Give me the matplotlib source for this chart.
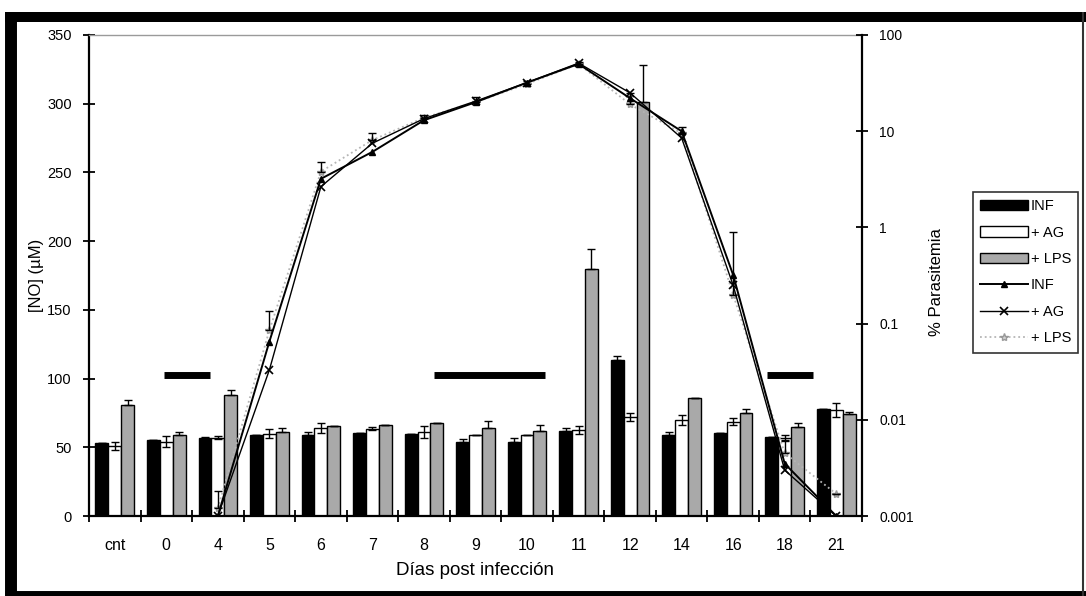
import numpy as np
import matplotlib
matplotlib.use("Agg")
import matplotlib.pyplot as plt
from matplotlib.lines import Line2D

plt.rcParams['font.family'] = ['Liberation Sans', 'DejaVu Sans']

# ------------------------------------------------------------
# datos
# ------------------------------------------------------------
dias = ['cnt', '0', '4', '5', '6', '7', '8', '9', '10', '11', '12', '14', '16', '18', '21']

# [NO] (uM) -- barras
no_inf     = [53, 55, 56.5, 59, 59, 60.5, 59.5, 54, 53.5, 61.5, 113.5, 59, 60.5, 57.5, 78]
no_inf_err = [0, 0, 1, 0, 2, 0, 0, 2, 3, 2.5, 3, 2, 0, 0, 0]
no_ag      = [51, 54, 57, 60, 64, 63.5, 61, 59, 59, 62.5, 72, 70, 68.5, 57, 77]
no_ag_err  = [3, 4, 1, 3, 3.5, 1, 4.5, 0, 0, 3, 3, 3.5, 2.5, 2, 5]
no_lps     = [81, 59, 88, 61, 65.5, 66, 67.5, 64, 62, 180, 301, 85.5, 75, 65, 74]
no_lps_err = [3.5, 2, 4, 3, 0, 0, 0, 5, 4, 14, 27, 0, 2.5, 3, 2]

# % parasitemia -- lineas (eje log)
nan = np.nan
par_inf = [nan, nan, 0.001, 0.065, 3.2, 6.1, 13, 20, 32, 50, 22, 10, 0.32, 0.0035, 0.001]
par_ag  = [nan, nan, 0.001, 0.033, 2.65, 7.5, 13.5, 20.5, 32, 51, 25, 8.5, 0.25, 0.003, 0.001]
par_lps = [nan, nan, 0.0012, 0.085, 3.8, 8.1, 13.8, 20, 31, 50, 19, 9.5, 0.2, 0.0045, 0.0017]
par_err = [0, 0, 0.0006, 0.05, 1.0, 1.5, 1.0, 2.5, 2.0, 3.0, 6.0, 1.5, 0.7, 0.0015, 0]

# barras horizontales (periodos), en unidades de categoria
periodos = [(0.95, 1.85), (6.2, 8.35), (12.65, 13.55)]
nivel_periodo = 102.5

W, H = 1086, 596
fig = plt.figure(figsize=(W/100, H/100), dpi=100)
ax = fig.add_axes([89/W, 1-516/H, (862-89)/W, (516-35)/H])

x = np.arange(len(dias))
bw = 0.25
cero = np.zeros(len(dias))
ekw = dict(ecolor='black', capsize=3, elinewidth=1, capthick=1)
ax.bar(x-bw, no_inf, bw, color='black', edgecolor='black', lw=1,
       yerr=[cero, no_inf_err], error_kw=ekw, label='INF', zorder=2)
ax.bar(x, no_ag, bw, color='white', edgecolor='black', lw=1,
       yerr=no_ag_err, error_kw=ekw, label='+ AG', zorder=2)
ax.bar(x+bw, no_lps, bw, color='#a9a9a9', edgecolor='black', lw=1,
       yerr=[cero, no_lps_err], error_kw=ekw, label='+ LPS', zorder=2)

for a, b in periodos:
    ax.plot([a, b], [nivel_periodo, nivel_periodo], color='black', lw=5,
            solid_capstyle='butt', zorder=3)

ax.set_xlim(-0.5, len(dias)-0.5)
ax.set_ylim(0, 350)
ax.set_yticks(range(0, 351, 50))
ax.set_xticks(np.arange(-0.5, len(dias), 1))
ax.set_xticklabels([])
ax.set_xticks(x, minor=True)
ax.set_xticklabels(dias, minor=True)
ax.tick_params(axis='x', which='major', direction='inout', length=8, width=1.3)
ax.tick_params(axis='x', which='minor', length=0, pad=16, labelsize=11.5)
ax.tick_params(axis='y', direction='inout', length=9, width=1.3, pad=8, labelsize=10.5)
for s in ['left', 'bottom']:
    ax.spines[s].set_linewidth(1.6)
ax.spines['right'].set_visible(False)
ax.spines['top'].set_color('#9a9a9a')
ax.spines['top'].set_linewidth(1)

ax.set_xlabel('Días post infección', fontsize=13.5)
ax.xaxis.set_label_coords(0.5, -0.095)
ax.set_ylabel('[NO] (µM)', fontsize=12)
ax.yaxis.set_label_coords(-0.058, 0.5)

# eje derecho: parasitemia
ax2 = ax.twinx()
ax2.set_yscale('log')
ax2.set_ylim(0.001, 100)
ax2.plot(x, par_lps, color='#b5b5b5', lw=1.3, ls=':', marker='*', ms=6,
         mec='#999999', mfc='#d0d0d0', label='+ LPS', zorder=4)
ax2.plot(x, par_ag, color='black', lw=1.0, marker='x', ms=6, mew=1.2,
         label='+ AG', zorder=5)
ax2.plot(x, par_inf, color='black', lw=1.4, marker='^', ms=5,
         label='INF', zorder=6)
ax2.errorbar(x, par_lps, yerr=[cero, par_err], fmt='none',
             ecolor='black', elinewidth=1, capsize=3, capthick=1, zorder=5)

ax2.set_yticks([0.001, 0.01, 0.1, 1, 10, 100])
ax2.set_yticklabels(['0.001', '0.01', '0.1', '1', '10', '100'])
ax2.yaxis.set_minor_locator(matplotlib.ticker.NullLocator())
ax2.tick_params(axis='y', direction='inout', length=9, width=1.3, pad=8, labelsize=10)
ax2.spines['right'].set_linewidth(1.6)
for s in ['left', 'bottom', 'top']:
    ax2.spines[s].set_visible(False)
ax2.set_ylabel('% Parasitemia', fontsize=12)
ax2.yaxis.set_label_coords(1.087, 0.486)

# leyenda
h1, l1 = ax.get_legend_handles_labels()
h2, l2 = ax2.get_legend_handles_labels()
orden2 = [2, 1, 0]
leg = fig.legend(h1 + [h2[i] for i in orden2], l1 + [l2[i] for i in orden2],
                 loc='upper left', bbox_to_anchor=(973/W, 1-192/H),
                 fontsize=10.5, frameon=True, fancybox=False, edgecolor='black',
                 handlelength=3.3, handletextpad=0.15, labelspacing=0.85,
                 borderpad=0.5, borderaxespad=0)
leg.get_frame().set_linewidth(1.2)

# marco negro del escaneo
def borde(x0, y0, x1, y1, lw, color='black'):
    fig.add_artist(Line2D([x0/W, x1/W], [1-y0/H, 1-y1/H], color=color, lw=lw,
                          transform=fig.transFigure, solid_capstyle='butt'))

borde(11, 12, 11, 596, 8.6)
borde(5, 17, W, 17, 7.2)
borde(5, 594, W, 594, 5)
borde(1083, 12, 1083, 596, 1.5, '#333333')

fig.savefig('out.png', dpi=100)
